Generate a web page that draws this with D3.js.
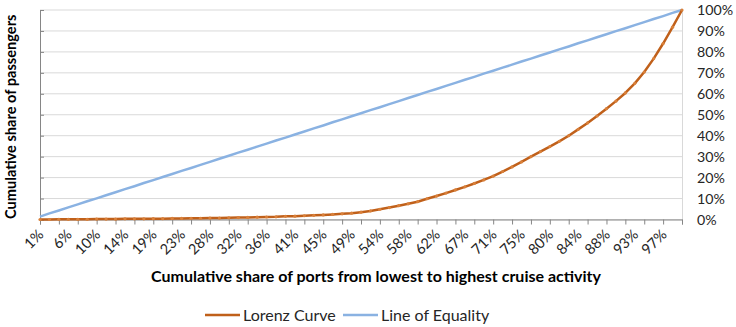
<!DOCTYPE html>
<html>
<head>
<meta charset="utf-8">
<script src="https://cdn.jsdelivr.net/npm/d3@7"></script>
<style>
  html, body { margin: 0; padding: 0; background: #fff; }
  svg { display: block; font-family: Lato, "Open Sans", sans-serif; }
</style>
</head>
<body>
<svg id="chart" width="736" height="327"></svg>
<script>
// Cumulative share of ports (category labels, %)
const categories = ["1%","3%","4%","6%","7%","9%","10%","12%","13%","14%","16%","17%","19%","20%","22%","23%","25%","26%","28%","29%","30%","32%","33%","35%","36%","38%","39%","41%","42%","43%","45%","46%","48%","49%","51%","52%","54%","55%","57%","58%","59%","61%","62%","64%","65%","67%","68%","70%","71%","72%","74%","75%","77%","78%","80%","81%","83%","84%","86%","87%","88%","90%","91%","93%","94%","96%","97%","99%","100%"];

// Cumulative share of passengers, ports sorted from lowest to highest activity (%)
const lorenzShare = [0.0,0.0,0.1,0.1,0.1,0.1,0.2,0.2,0.2,0.3,0.3,0.3,0.4,0.4,0.5,0.5,0.6,0.6,0.7,0.7,0.8,0.9,1.0,1.1,1.2,1.3,1.5,1.6,1.8,2.0,2.2,2.4,2.7,3.0,3.5,4.1,4.9,5.7,6.6,7.5,8.5,9.9,11.2,12.6,14.1,15.6,17.2,18.9,20.7,22.9,25.1,27.5,30.0,32.4,34.8,37.3,40.0,43.0,46.1,49.4,52.9,56.5,60.4,65.0,70.4,76.8,84.0,91.8,100];

// Perfect equality: passenger share equals port share (%)
const equalityShare = [1.4,2.9,4.3,5.8,7.2,8.7,10.1,11.6,13.0,14.5,15.9,17.4,18.8,20.3,21.7,23.2,24.6,26.1,27.5,29.0,30.4,31.9,33.3,34.8,36.2,37.7,39.1,40.6,42.0,43.5,44.9,46.4,47.8,49.3,50.7,52.2,53.6,55.1,56.5,58.0,59.4,60.9,62.3,63.8,65.2,66.7,68.1,69.6,71.0,72.5,73.9,75.4,76.8,78.3,79.7,81.2,82.6,84.1,85.5,87.0,88.4,89.9,91.3,92.8,94.2,95.7,97.1,98.6,100];

const yTicks = [0,10,20,30,40,50,60,70,80,90,100];

const seriesNames = ["Lorenz Curve", "Line of Equality"];
const seriesColors = ["#C0601A", "#8AB2E2"];

const svg = d3.select("#chart");
const plot = { left: 40, right: 682, top: 10, bottom: 219.5 };

const x = d3.scalePoint().domain(categories).range([plot.left, plot.right]);
const y = d3.scaleLinear().domain([0, 100]).range([plot.bottom, plot.top]);

// horizontal gridlines
svg.append("g")
  .selectAll("line")
  .data(yTicks)
  .join("line")
  .attr("x1", plot.left).attr("x2", plot.right)
  .attr("y1", d => y(d)).attr("y2", d => y(d))
  .attr("stroke", "#d9d9d9").attr("stroke-width", 1);

// left spine with inward tick marks
const leftAxis = svg.append("g")
  .attr("transform", `translate(${plot.left},0)`)
  .call(d3.axisRight(y).tickValues(yTicks).tickSize(4).tickFormat(""));
leftAxis.select(".domain").attr("stroke", "#868686");
leftAxis.selectAll(".tick line").attr("stroke", "#868686");

// right value axis with percentage labels
const rightAxis = svg.append("g")
  .attr("transform", `translate(${plot.right},0)`)
  .call(d3.axisRight(y).tickValues(yTicks).tickSize(0).tickPadding(15).tickFormat(d => d + "%"));
rightAxis.select(".domain").attr("stroke", "#d9d9d9");
rightAxis.selectAll("text")
  .attr("font-family", "Lato, sans-serif")
  .attr("font-size", 14.2).attr("fill", "#262626");

// category axis: tick marks every second port
const tickAxis = svg.append("g")
  .attr("transform", `translate(0,${plot.bottom})`)
  .call(d3.axisBottom(x).tickValues(categories.filter((d, i) => i % 2 === 0)).tickSize(5).tickFormat(""));
tickAxis.select(".domain").attr("stroke", "#868686");
tickAxis.selectAll(".tick line").attr("stroke", "#868686");

// category axis: labels every third port, rotated
const labelAxis = svg.append("g")
  .attr("transform", `translate(0,${plot.bottom})`)
  .call(d3.axisBottom(x).tickValues(categories.filter((d, i) => i % 3 === 0)).tickSize(0).tickPadding(0));
labelAxis.select(".domain").remove();
labelAxis.selectAll("text")
  .attr("font-family", "Lato, sans-serif")
  .attr("font-size", 14.5).attr("fill", "#262626")
  .attr("text-anchor", "end")
  .attr("y", 0)
  .attr("dy", 0)
  .attr("transform", "translate(4,16) rotate(-45)");

// series lines
const line = d3.line()
  .x((d, i) => x(categories[i]))
  .y(d => y(d));

svg.append("path")
  .datum(equalityShare)
  .attr("fill", "none")
  .attr("stroke", seriesColors[1])
  .attr("stroke-width", 2.5)
  .attr("stroke-linejoin", "round")
  .attr("d", line);

svg.append("path")
  .datum(lorenzShare)
  .attr("fill", "none")
  .attr("stroke", seriesColors[0])
  .attr("stroke-width", 2.5)
  .attr("stroke-linejoin", "round")
  .attr("d", line);

// small markers on the Lorenz curve
svg.append("g")
  .selectAll("circle")
  .data(lorenzShare)
  .join("circle")
  .attr("cx", (d, i) => x(categories[i]))
  .attr("cy", d => y(d))
  .attr("r", 1.6)
  .attr("fill", "#D9803A");

// axis titles
svg.append("text")
  .attr("transform", `translate(16,${(plot.top + plot.bottom) / 2 + 2}) rotate(-90)`)
  .attr("text-anchor", "middle")
  .attr("font-family", "Lato, sans-serif")
  .attr("font-weight", "bold")
  .attr("font-size", 14.6)
  .attr("fill", "#000")
  .text("Cumulative share of passengers");

svg.append("text")
  .attr("x", 376).attr("y", 282)
  .attr("text-anchor", "middle")
  .attr("font-family", "Lato, sans-serif")
  .attr("font-weight", "bold")
  .attr("font-size", 16)
  .attr("fill", "#000")
  .text("Cumulative share of ports from lowest to highest cruise activity");

// legend
const legendItems = [
  { name: seriesNames[0], color: seriesColors[0], x: 205 },
  { name: seriesNames[1], color: seriesColors[1], x: 343 }
];
const lg = svg.append("g").selectAll("g").data(legendItems).join("g")
  .attr("transform", d => `translate(${d.x},315)`);
lg.append("line")
  .attr("x1", 0).attr("x2", 35).attr("y1", 0).attr("y2", 0)
  .attr("stroke", d => d.color).attr("stroke-width", 2.5);
lg.append("text")
  .attr("x", 38).attr("y", 5.5)
  .attr("font-family", "Lato, sans-serif")
  .attr("font-size", 16)
  .attr("fill", "#262626")
  .text(d => d.name);
</script>
</body>
</html>
